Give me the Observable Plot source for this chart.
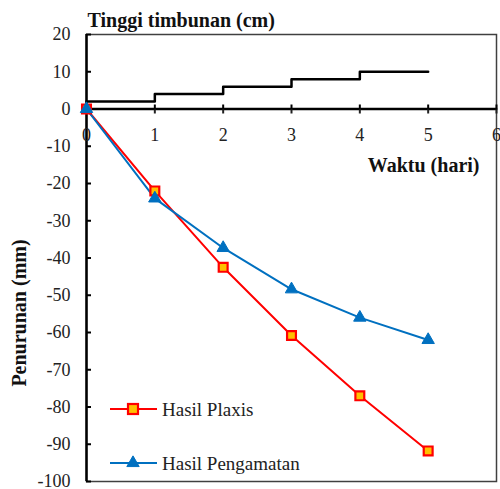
<!DOCTYPE html>
<html><head><meta charset="utf-8">
<script src="https://cdn.jsdelivr.net/npm/d3@7"></script>
<script src="https://cdn.jsdelivr.net/npm/@observablehq/plot@0.6"></script>
<style>
body{margin:0;background:#fff}
#chart{position:relative;width:500px;height:489px}
svg{font-family:"Liberation Serif","Times New Roman",serif}
</style>
</head><body><div id="chart"></div>
<script>
const days = [0, 1, 2, 3, 4, 5];
const plaxis = [0, -22, -42.5, -60.8, -77, -91.8];
const pengamatan = [0, -24, -37.3, -48.4, -56, -62];
const timbunanDays = [0, 1, 2, 3, 4, 5];
const timbunanHeight = [2, 4, 6, 8, 10, 10];
const xTicks = [0, 1, 2, 3, 4, 5, 6];
const yTicks = [-100, -90, -80, -70, -60, -50, -40, -30, -20, -10, 0, 10, 20];
const seriesNames = ["Hasil Plaxis", "Hasil Pengamatan"];
const titleTop = "Tinggi timbunan (cm)";
const xLabel = "Waktu (hari)";
const yLabel = "Penurunan (mm)";

const RED = "#FF0000", ORANGE = "#FFC000", BLUE = "#0070C0";

const plaxisData = days.map((d, i) => ({day: d, v: plaxis[i]}));
const pengData = days.map((d, i) => ({day: d, v: pengamatan[i]}));
const timbData = timbunanDays.map((d, i) => ({day: d, v: timbunanHeight[i]}));

const ml = 86, mr = 4, mt = 34, mb = 8;
const plain = d => `${d}`;

const plot = Plot.plot({
  width: 500, height: 489,
  marginLeft: ml, marginRight: mr, marginTop: mt, marginBottom: mb,
  x: {domain: [0, 6]},
  y: {domain: [-100, 20]},
  style: {fontFamily: "Liberation Serif, Times New Roman, serif", background: "#fff", overflow: "visible"},
  marks: [
    Plot.frame({stroke: "#404040", strokeWidth: 1.5}),
    Plot.axisY({ticks: yTicks, tickFormat: plain, tickSize: 0, tickPadding: 16, fontSize: 18, label: null, color: "#222"}),
    Plot.axisY({ticks: yTicks, tickSize: 5, dx: 5, tickFormat: () => "", label: null, strokeWidth: 2, stroke: "#000"}),
    Plot.ruleX([0], {stroke: "#000", strokeWidth: 2.5}),
    Plot.ruleY([0], {stroke: "#000", strokeWidth: 2.5}),
    Plot.axisX({y: 0, anchor: "bottom", ticks: xTicks, tickFormat: plain, tickSize: 5, tickPadding: 14, fontSize: 18, label: null, strokeWidth: 2, color: "#222"}),
    Plot.axisX({y: 0, anchor: "top", ticks: xTicks, tickSize: 5, tickFormat: () => "", label: null, strokeWidth: 2}),
    Plot.line(timbData, {x: "day", y: "v", curve: "step-after", stroke: "#000", strokeWidth: 2.5}),
    Plot.line(plaxisData, {x: "day", y: "v", stroke: RED, strokeWidth: 2}),
    Plot.line(pengData, {x: "day", y: "v", stroke: BLUE, strokeWidth: 2}),
    Plot.dot(plaxisData, {x: "day", y: "v", symbol: "square", r: 5, fill: ORANGE, stroke: RED, strokeWidth: 2.2}),
    Plot.dot(pengData, {x: "day", y: "v", symbol: "triangle", r: 4.6, fill: BLUE, stroke: BLUE, strokeWidth: 1}),
    Plot.text([titleTop], {frameAnchor: "top-left", textAnchor: "start", lineAnchor: "bottom", dx: 1, dy: -8, fontSize: 20, fontWeight: "bold", fill: "#111"}),
    Plot.text([xLabel], {frameAnchor: "top-right", textAnchor: "end", lineAnchor: "middle", dx: -17, dy: 131, fontSize: 20, fontWeight: "bold", fill: "#111"}),
    Plot.text([yLabel], {frameAnchor: "left", rotate: -90, textAnchor: "middle", lineAnchor: "middle", dx: -67, dy: 55, fontSize: 20, fontWeight: "bold", fill: "#111"})
  ]
});

document.getElementById("chart").appendChild(plot);

const svg = d3.select(plot);
const leg = svg.append("g").attr("text-anchor", "start");
const legendItems = [
  {name: seriesNames[0], color: RED, sym: "square", y: 409},
  {name: seriesNames[1], color: BLUE, sym: "triangle", y: 463}
];
legendItems.forEach(it => {
  leg.append("line").attr("x1", 110).attr("x2", 157).attr("y1", it.y).attr("y2", it.y)
    .attr("stroke", it.color).attr("stroke-width", 2);
  if (it.sym === "square") {
    leg.append("rect").attr("x", 128).attr("y", it.y - 5).attr("width", 10).attr("height", 10)
      .attr("fill", ORANGE).attr("stroke", RED).attr("stroke-width", 2.2);
  } else {
    leg.append("path").attr("d", d3.symbol(d3.symbolTriangle, 66)()).attr("transform", `translate(133,${it.y})`)
      .attr("fill", BLUE).attr("stroke", BLUE);
  }
  leg.append("text").attr("x", 162).attr("y", it.y).attr("dy", "0.35em").attr("text-anchor", "start")
    .attr("font-size", 19).attr("fill", "#222").text(it.name);
});
</script>
</body></html>
